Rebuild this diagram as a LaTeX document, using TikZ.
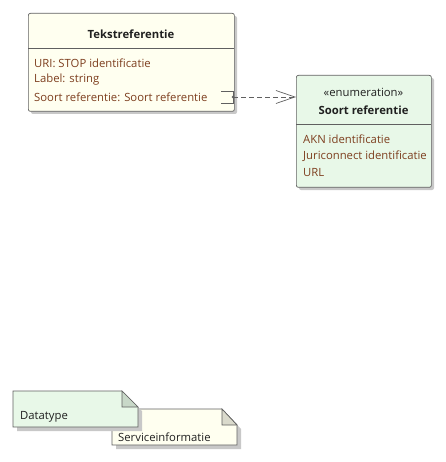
\documentclass[tikz,border=0pt]{standalone}
\usepackage{fontspec}
\setmainfont{Open Sans}
\usetikzlibrary{arrows.meta}
\definecolor{clsyellow}{RGB}{255,255,240}
\definecolor{clsgreen}{RGB}{232,248,232}
\definecolor{foldyellow}{RGB}{218,218,204}
\definecolor{foldgreen}{RGB}{200,216,200}
\definecolor{boxgray}{RGB}{96,96,96}
\definecolor{shadowcol}{RGB}{200,200,200}
\definecolor{attrcol}{RGB}{125,62,30}
\definecolor{titlecol}{RGB}{32,32,32}
\begin{document}
\begin{tikzpicture}[x=1pt,y=-1pt,
  txt/.style={font=\fontsize{11.3}{13}\selectfont, inner sep=0pt},
  box/.style={draw=boxgray, rounded corners=2pt, line width=0.7pt, inner sep=0pt, anchor=north west},
  attr/.style={txt, anchor=west, text=attrcol},
  ttl/.style={txt, font=\fontsize{11.3}{13}\selectfont\bfseries, text=titlecol},
  notetxt/.style={txt, anchor=west, text=titlecol},
  sep/.style={draw=boxgray, line width=0.7pt}]
\useasboundingbox (0,0) rectangle (445,462);

% ---- Tekstreferentie class
\fill[shadowcol, rounded corners=2pt] (31,16) rectangle (237,114);
\node[box, fill=clsyellow, minimum width=206pt, minimum height=98pt] (tr) at (28,13) {};
\draw[sep] (28,48) -- (234,48);
\node[ttl] (trtitle) at (131,34) {Tekstreferentie};
\node[attr] (a1) at (34,63) {URI: STOP identificatie};
\node[attr] (a2) at (34,80) {Label: string};
\node[attr] (a3) at (34,97) {Soort referentie: Soort referentie};

% ---- Soort referentie enumeration
\fill[shadowcol, rounded corners=2pt] (299,78) rectangle (434,190);
\node[box, fill=clsgreen, minimum width=135pt, minimum height=112pt] (sr) at (296,75) {};
\draw[sep] (296,124) -- (431,124);
\node[txt, text=titlecol] (srst) at (363.5,92) {«enumeration»};
\node[ttl] (srtitle) at (363.5,110) {Soort referentie};
\node[attr] (e1) at (303,139) {AKN identificatie};
\node[attr] (e2) at (303,156) {Juriconnect identificatie};
\node[attr] (e3) at (303,173) {URL};

% ---- port and dependency
\coordinate (port) at (233,97);
\draw[boxgray, line width=0.7pt] (221,91) -- (233,91) -- (233,103) -- (221,103);
\fill[boxgray] (port) circle (1.3pt);
\draw[boxgray, line width=0.7pt, dash pattern=on 5pt off 3pt,
  -{Straight Barb[length=19pt,width=13pt,line width=0.7pt]}] (port) -- (sr.west |- port);

% ---- Serviceinformatie note
\fill[shadowcol] (116,413) -- (226,413) -- (241,429) -- (241,449) -- (116,449) -- cycle;
\draw[boxgray, line width=0.7pt, fill=clsyellow] (112,409) -- (222,409) -- (237,425) -- (237,445) -- (112,445) -- cycle;
\draw[boxgray, line width=0.7pt, fill=foldyellow] (222,409) -- (237,425) -- (222,425) -- cycle;
\node[notetxt] (svc) at (118,437) {Serviceinformatie};

% ---- Datatype note
\fill[shadowcol] (17,395) -- (126,395) -- (142,411) -- (142,431) -- (17,431) -- cycle;
\draw[boxgray, line width=0.7pt, fill=clsgreen] (13,391) -- (122,391) -- (138,407) -- (138,427) -- (13,427) -- cycle;
\draw[boxgray, line width=0.7pt, fill=foldgreen] (122,391) -- (138,407) -- (122,407) -- cycle;
\node[notetxt] (dt) at (20,417) {Datatype};
\end{tikzpicture}
\end{document}
